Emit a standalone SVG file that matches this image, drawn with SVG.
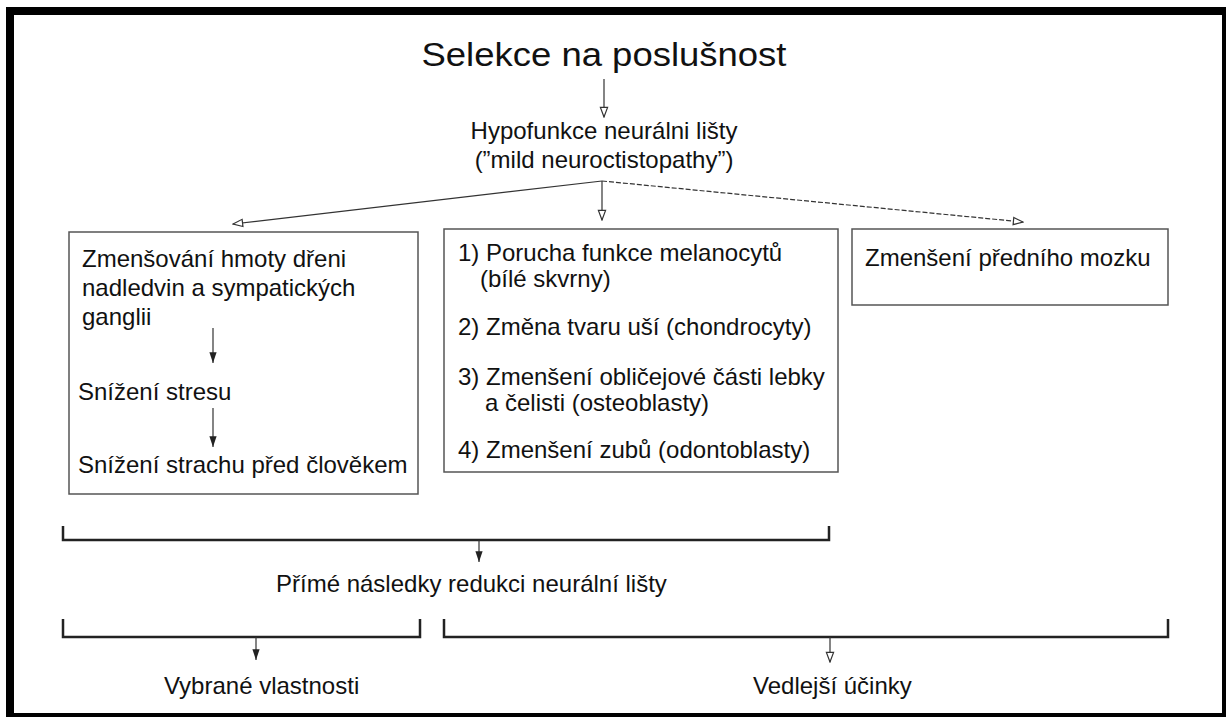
<svg xmlns="http://www.w3.org/2000/svg" width="1227" height="717" viewBox="0 0 1227 717">
<defs>
<style>
text{font-family:"Liberation Sans",Arial,sans-serif;font-size:24px;fill:#111;}
.box{fill:#fff;stroke:#555;stroke-width:1.5;}
.ln{stroke:#333;stroke-width:1.2;fill:none;}
.br{stroke:#222;stroke-width:2.5;fill:none;}
</style>
<marker id="open" markerUnits="userSpaceOnUse" markerWidth="12" markerHeight="10" viewBox="0 0 10 8" refX="9" refY="4" orient="auto">
<path d="M1,1 L9,4 L1,7 z" fill="#fff" stroke="#333" stroke-width="1"/>
</marker>
<marker id="fill" markerUnits="userSpaceOnUse" markerWidth="12" markerHeight="10" viewBox="0 0 10 8" refX="9" refY="4" orient="auto">
<path d="M0,1 L9,4 L0,7 z" fill="#222"/>
</marker>
</defs>
<rect x="0" y="0" width="1227" height="717" fill="#fff"/>
<rect x="6" y="7" width="1220" height="710" fill="#000"/>
<rect x="14" y="15" width="1208" height="698" fill="#fff"/>

<g id="title">
<text x="604" y="66" text-anchor="middle" style="font-size:34px" textLength="365" lengthAdjust="spacingAndGlyphs">Selekce na poslušnost</text>
</g>
<g id="hypofunkce">
<text x="604" y="139" text-anchor="middle">Hypofunkce neurálni lišty</text>
<text x="604" y="168" text-anchor="middle">(”mild neuroctistopathy”)</text>
</g>
<g id="left-box">
<rect class="box" x="69" y="232" width="349" height="262"/>
<text x="82" y="267">Zmenšování hmoty dřeni</text>
<text x="82" y="296">nadledvin a sympatických</text>
<text x="82" y="325">ganglii</text>
<text x="78" y="400">Snížení stresu</text>
<text x="78" y="473">Snížení strachu před člověkem</text>
</g>
<g id="middle-box">
<rect class="box" x="444" y="229" width="394" height="243"/>
<text x="458" y="261">1) Porucha funkce melanocytů</text>
<text x="480" y="287">(bílé skvrny)</text>
<text x="458" y="335">2) Změna tvaru uší (chondrocyty)</text>
<text x="458" y="385">3) Zmenšení obličejové části lebky</text>
<text x="485" y="411">a čelisti (osteoblasty)</text>
<text x="458" y="458">4) Zmenšení zubů (odontoblasty)</text>
</g>
<g id="right-box">
<rect class="box" x="852" y="229" width="316" height="76"/>
<text x="865" y="266">Zmenšení předního mozku</text>
</g>
<g id="prime">
<text x="276" y="592">Přímé následky redukci neurální lišty</text>
</g>
<g id="vybrane">
<text x="164" y="694">Vybrané vlastnosti</text>
</g>
<g id="vedlejsi">
<text x="753" y="694">Vedlejší účinky</text>
</g>

<g id="connectors">
<line class="ln" x1="604" y1="79" x2="604" y2="117" marker-end="url(#open)"/>
<line class="ln" x1="602" y1="181" x2="233" y2="224" marker-end="url(#open)"/>
<line class="ln" x1="602" y1="181" x2="602" y2="220" marker-end="url(#open)"/>
<line class="ln" x1="602" y1="181" x2="1023" y2="222" stroke-dasharray="5,2" marker-end="url(#open)"/>
<line class="ln" x1="213" y1="328" x2="213" y2="363" marker-end="url(#fill)"/>
<line class="ln" x1="213" y1="408" x2="213" y2="447" marker-end="url(#fill)"/>
<path class="br" d="M63,526 V540 H829 V526"/>
<line class="ln" x1="479" y1="540" x2="479" y2="562" marker-end="url(#fill)"/>
<path class="br" d="M63,619 V637 H420 V619"/>
<line class="ln" x1="256" y1="637" x2="256" y2="660" marker-end="url(#fill)"/>
<path class="br" d="M444,619 V637 H1168 V619"/>
<line class="ln" x1="830" y1="637" x2="830" y2="662" marker-end="url(#open)"/>
</g>
</svg>
